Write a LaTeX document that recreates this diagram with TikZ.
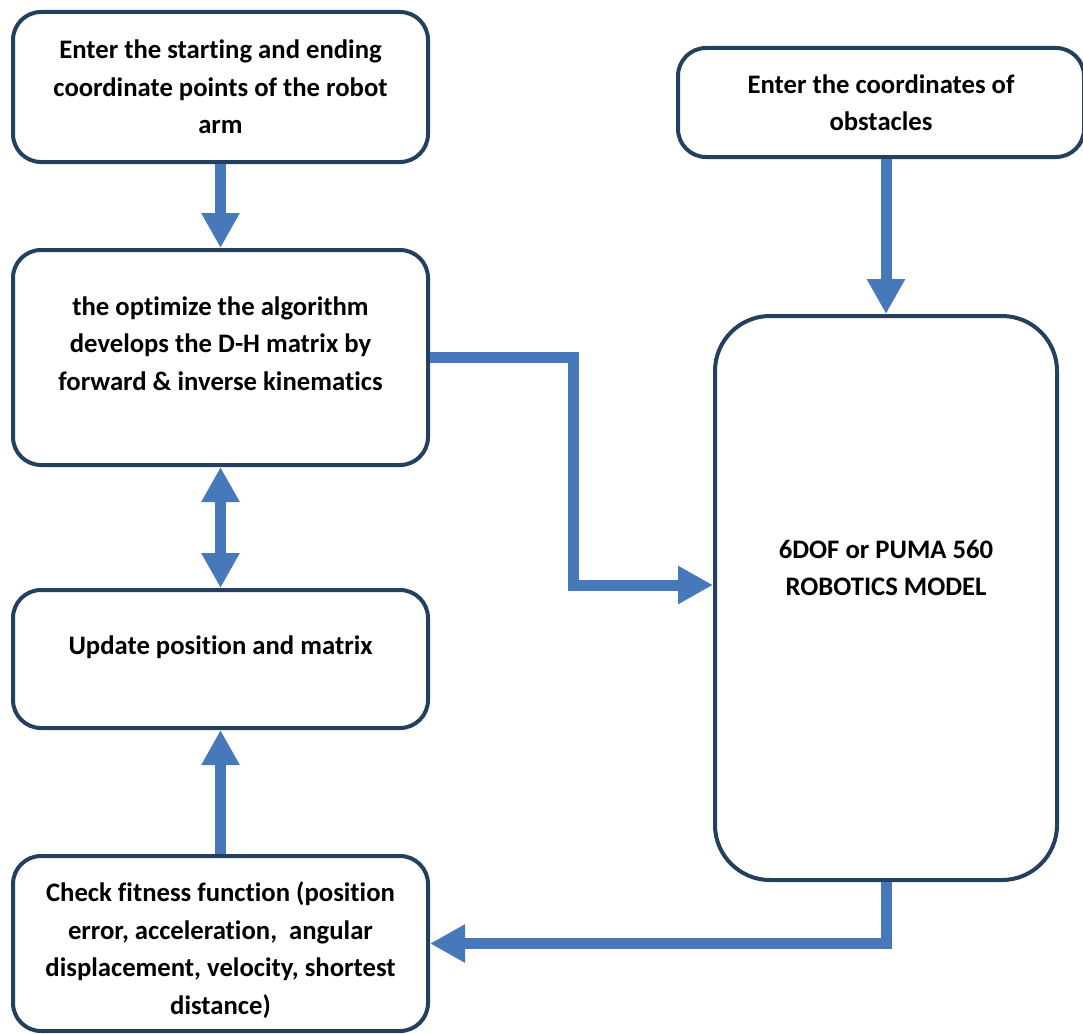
\documentclass[tikz,border=0pt]{standalone}
\usepackage{fontspec}
\setmainfont{Carlito}[Ligatures=NoCommon]
\usetikzlibrary{arrows.meta}
\definecolor{boxline}{HTML}{243F60}
\definecolor{flowblue}{HTML}{4779BA}
\tikzset{
  stepbox/.style={draw=boxline, line width=4pt, rounded corners=28pt, fill=white,
    align=center, inner sep=0pt, font=\bfseries\fontsize{26.7}{37.5}\selectfont},
  flow/.style={draw=flowblue, line width=11pt, >={Triangle[length=35pt,width=36pt]}, ->},
}
\begin{document}
\begin{tikzpicture}[x=1pt,y=-1pt]
  \useasboundingbox (0,0) rectangle (1083,1033);

  % boxes on the left
  \node[stepbox, minimum width=415pt, minimum height=150pt] (start) at (220.5,87)
    {Enter the starting and ending\\coordinate points of the robot\\arm};
  \node[stepbox, minimum width=415pt, minimum height=215pt, text depth=28pt] (optim) at (220.5,357.5)
    {the optimize the algorithm\\develops the D-H matrix by\\forward \& inverse kinematics};
  \node[stepbox, minimum width=415pt, minimum height=138pt, text depth=28pt] (update) at (220.5,659)
    {Update position and matrix};
  \node[stepbox, minimum width=415pt, minimum height=175pt, text height=146pt] (check) at (220.5,943.5)
    {Check fitness function (position\\error, acceleration,~ angular\\displacement, velocity, shortest\\distance)};

  % boxes on the right
  \node[stepbox, minimum width=406pt, minimum height=109pt] (obst) at (881,102.5)
    {Enter the coordinates of\\obstacles};
  \node[stepbox, rounded corners=55pt, minimum width=342pt, minimum height=564pt, text depth=60pt] (robot) at (886,598)
    {6DOF or PUMA 560\\ROBOTICS MODEL};

  % connectors
  \coordinate (elbow) at (573,585);
  \draw[flow] (start.south) -- (optim.north);
  \draw[flow] (robot.north |- obst.south) -- (robot.north);
  \draw[flow] (optim.east) -| (elbow) -- (elbow -| robot.west);
  \draw[flow, <->] (optim.south) -- (update.north);
  \draw[flow] (check.north) -- (update.south);
  \draw[flow] (robot.south) |- (check.east);
\end{tikzpicture}
\end{document}
